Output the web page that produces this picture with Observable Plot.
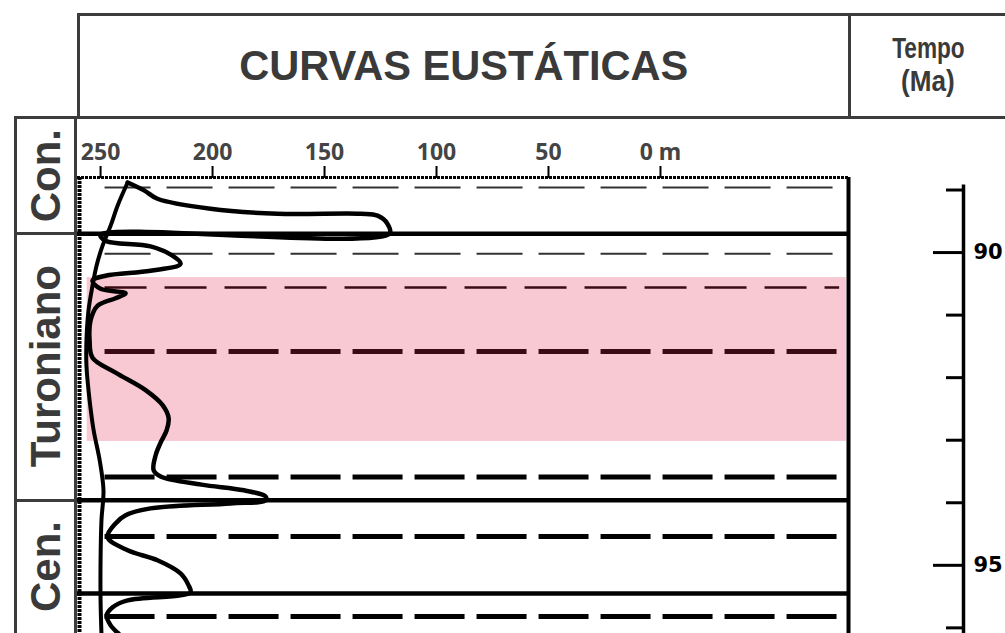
<!DOCTYPE html>
<html><head><meta charset="utf-8">
<script src="https://cdn.jsdelivr.net/npm/d3@7"></script>
<script src="https://cdn.jsdelivr.net/npm/@observablehq/plot@0.6"></script>
<style>
html,body{margin:0;padding:0;background:#fff;}
#wrap{position:relative;width:1005px;height:633px;overflow:hidden;font-family:"Liberation Sans",Arial,sans-serif;background:#fff;}
.line{position:absolute;background:#3c3c3c;}
.htxt{position:absolute;display:flex;align-items:center;justify-content:center;font-weight:bold;color:#3a3a3a;white-space:nowrap;}
.stage{position:absolute;display:flex;align-items:center;justify-content:center;}
.stage span{writing-mode:vertical-rl;transform:rotate(180deg);font-weight:bold;color:#3a3a3a;font-size:42px;white-space:nowrap;}
#panel{position:absolute;left:77px;top:118px;}
#time{position:absolute;left:849px;top:118px;}
#panel svg g[aria-label="x-axis tick label"] text{font-weight:bold;fill:#444;font-size:23px;}
#time svg g[aria-label="y-axis tick label"] text{font-weight:bold;fill:#000;font-size:21px;font-family:"DejaVu Sans",sans-serif;}
</style></head>
<body><div id="wrap"></div>
<script>
// ---------- data ----------
const stages = ["Con.", "Turoniano", "Cen."];
const stageBoundaries = [89.70, 93.96];          // Ma
const depthTicks = [250, 200, 150, 100, 50, 0];   // m
const timeMajor = [90, 95];                       // Ma
const timeMinor = [89, 91, 92, 93, 94, 96];       // Ma
const depthDomain = [260.3, -84.4];
const timeDomain = [88.80, 96.09];
const timeAxisTop = 88.92;

// short-term eustatic curve (time in Ma, level in m)
const shortTime  = [88.88, 89.01, 89.14, 89.30, 89.38, 89.38, 89.41, 89.54, 89.70, 89.71, 89.81, 89.90, 90.05, 90.18, 90.29, 90.37, 90.45, 90.58, 90.65, 90.73, 90.85, 91.09, 91.41, 91.68, 91.92, 92.20, 92.44, 92.65, 92.84, 93.04, 93.24, 93.48, 93.58, 93.71, 93.80, 93.90, 93.96, 94.01, 94.09, 94.20, 94.33, 94.55, 94.76, 94.92, 95.13, 95.32, 95.43, 95.48, 95.56, 95.67, 95.80, 95.96, 96.09];
const shortDepth = [237.9, 230.4, 224.6, 200.9, 171.0, 133.9, 126.3, 121.9, 121.0, 250.0, 247.8, 227.7, 217.9, 214.3, 227.7, 247.8, 253.6, 250.0, 238.8, 243.3, 251.3, 254.5, 254.9, 253.6, 243.3, 229.9, 222.3, 219.6, 220.5, 223.2, 225.4, 226.3, 223.2, 205.0, 186.0, 176.3, 176.3, 192.0, 227.7, 238.8, 243.3, 246.9, 237.9, 224.6, 214.3, 210.7, 209.8, 214.3, 237.9, 244.6, 247.3, 245.5, 242.0];

// long-term eustatic curve
const longTime  = [88.88, 89.25, 89.57, 89.89, 90.21, 90.53, 90.93, 91.41, 91.81, 92.36, 92.84, 93.32, 93.80, 94.28, 94.92, 95.56, 96.09];
const longDepth = [237.9, 242.4, 245.5, 249.1, 251.8, 253.6, 255.4, 256.3, 256.3, 254.9, 253.1, 250.4, 248.7, 249.6, 250.0, 250.0, 249.6];

// horizontal correlation lines (Ma)
const solidLines   = [89.70, 93.96, 95.45];
const dottedLines  = [88.96, 90.02];
const thinDashed   = [90.56];
const thickDashed  = [93.59, 94.54, 95.82];
const thickDashedBand = [91.58];
const dashExtent   = [248, -80];   // m

// highlighted interval
const bandTime  = [90.40, 93.02];
const bandDepth = [256, -83];

// ---------- build ----------
const wrap = document.getElementById("wrap");
const shortCurve = shortTime.map((t, i) => ({t, d: shortDepth[i]}));
const longCurve  = longTime.map((t, i) => ({t, d: longDepth[i]}));
const band = [{t1: bandTime[0], t2: bandTime[1], d1: bandDepth[0], d2: bandDepth[1]}];

const W = 772, H = 515, MT = 59;
const panel = Plot.plot({
  width: W, height: H, marginTop: MT, marginLeft: 0, marginRight: 0, marginBottom: 0,
  x: {domain: depthDomain},
  y: {domain: timeDomain, reverse: true, axis: null},
  style: {background: "transparent", overflow: "visible"},
  marks: [
    Plot.rect(band, {x1: "d1", x2: "d2", y1: "t1", y2: "t2", fill: "#f8c9d3"}),
    Plot.ruleY(dottedLines, {x1: dashExtent[0], x2: dashExtent[1], stroke: "#333", strokeWidth: 2, strokeDasharray: "46,16"}),
    Plot.ruleY(thinDashed, {x1: dashExtent[0], x2: dashExtent[1], stroke: "#3a0b12", strokeWidth: 2.5, strokeDasharray: "42,18"}),
    Plot.ruleY(thickDashedBand, {x1: dashExtent[0], x2: dashExtent[1], stroke: "#3a0b12", strokeWidth: 5, strokeDasharray: "50,12"}),
    Plot.ruleY(thickDashed, {x1: dashExtent[0], x2: dashExtent[1], stroke: "#000", strokeWidth: 5, strokeDasharray: "50,12"}),
    Plot.ruleY(solidLines, {stroke: "#000", strokeWidth: 4.5}),
    Plot.line(longCurve, {x: "d", y: "t", stroke: "#000", strokeWidth: 4, curve: "catmull-rom"}),
    Plot.line(shortCurve, {x: "d", y: "t", stroke: "#000", strokeWidth: 4.5, curve: "catmull-rom"}),
    Plot.ruleY([timeDomain[0]], {stroke: "#000", strokeWidth: 3, strokeDasharray: "3,1"}),
    Plot.ruleX([depthDomain[0]], {stroke: "#000", strokeWidth: 4, strokeDasharray: "3,1", dx: 2}),
    Plot.ruleX([depthDomain[1]], {stroke: "#000", strokeWidth: 4, dx: -1}),
    Plot.axisX({anchor: "top", ticks: depthTicks, tickFormat: d => d === 0 ? "0 m" : String(d),
      tickSize: 12, tickPadding: 6, strokeWidth: 2, fontSize: 23, fontWeight: "bold", label: null})
  ]
});
const pDiv = document.createElement("div"); pDiv.id = "panel"; pDiv.appendChild(panel); wrap.appendChild(pDiv);

const time = Plot.plot({
  width: 156, height: H, marginTop: MT, marginLeft: 114, marginRight: 41, marginBottom: 0,
  x: {domain: [0, 1], axis: null},
  y: {domain: timeDomain, reverse: true, axis: null},
  style: {background: "transparent", overflow: "visible"},
  marks: [
    Plot.ruleX([0], {y1: timeAxisTop, y2: timeDomain[1], stroke: "#000", strokeWidth: 3.5}),
    Plot.axisY({anchor: "left", ticks: timeMajor, tickSize: 30, strokeWidth: 3, tickFormat: () => "", label: null}),
    Plot.axisY({anchor: "left", ticks: timeMinor, tickSize: 17, strokeWidth: 3, tickFormat: () => "", label: null}),
    Plot.axisY({anchor: "right", ticks: timeMajor, tickSize: 0, tickPadding: 9, fontSize: 21, fontWeight: "bold", label: null})
  ]
});
const tDiv = document.createElement("div"); tDiv.id = "time"; tDiv.appendChild(time); wrap.appendChild(tDiv);

// header + stage column (HTML), placed with the panel's y scale
const ys = panel.scale("y");
const top0 = 118;
function addLine(l, t, w, h) { const e = document.createElement("div"); e.className = "line";
  Object.assign(e.style, {left: l + "px", top: t + "px", width: w + "px", height: h + "px"}); wrap.appendChild(e); }
addLine(77, 13, 940, 3);      // header top
addLine(77, 13, 3, 106);      // header left
addLine(848, 13, 3, 106);     // header divider
addLine(14, 116, 1000, 3);    // header bottom
addLine(14, 116, 3, 520);     // stage column left
addLine(74, 116, 3, 520);     // stage column right

const bounds = [top0, ...stageBoundaries.map(b => top0 + ys.apply(b)), 633];
stages.forEach((s, i) => {
  const e = document.createElement("div"); e.className = "stage";
  Object.assign(e.style, {left: "17px", width: "57px", top: bounds[i] + "px", height: (bounds[i + 1] - bounds[i]) + "px"});
  const sp = document.createElement("span"); sp.textContent = s; e.appendChild(sp); wrap.appendChild(e);
  if (i > 0) addLine(14, Math.round(bounds[i]) - 1, 63, 3);
});

const h1 = document.createElement("div"); h1.className = "htxt";
Object.assign(h1.style, {left: "80px", width: "768px", top: "16px", height: "100px", fontSize: "42px"});
h1.innerHTML = '<span style="display:inline-block;transform:scaleX(0.99)">CURVAS EUSTÁTICAS</span>';
wrap.appendChild(h1);
const h2 = document.createElement("div"); h2.className = "htxt";
Object.assign(h2.style, {left: "851px", width: "154px", top: "15px", height: "100px", fontSize: "29px", lineHeight: "33px", flexDirection: "column"});
h2.innerHTML = '<span style="display:inline-block;transform:scaleX(0.78)">Tempo</span><span style="display:inline-block;transform:scaleX(0.9)">(Ma)</span>';
wrap.appendChild(h2);
</script>
</body></html>
